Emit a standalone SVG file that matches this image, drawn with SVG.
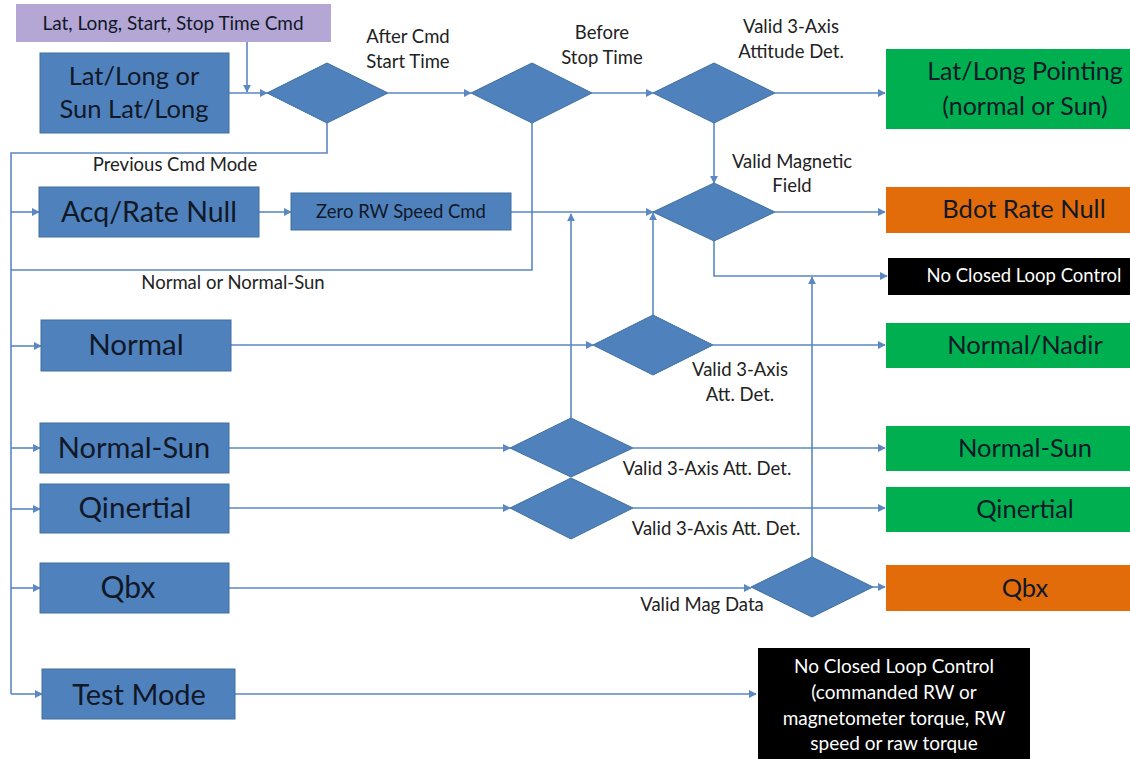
<svg xmlns="http://www.w3.org/2000/svg" width="1130" height="759" viewBox="0 0 1130 759">
<style>
.bg{fill:#ffffff}
.blue{fill:#4f81bd;stroke:#41719c;stroke-width:1}
.dia{fill:#4f81bd;stroke:#41719c;stroke-width:1}
.green{fill:#00b050}
.orange{fill:#e36c0a}
.black{fill:#000000}
.purple{fill:#b4a7d6}
.t{font-family:Lato,"Open Sans","Liberation Sans",sans-serif;text-anchor:middle;fill:#111827}
.w{fill:#ffffff}
.lbl{font-family:Lato,"Open Sans","Liberation Sans",sans-serif;text-anchor:middle;fill:#222;font-size:18.5px}
.c{fill:none;stroke:#5b87c2;stroke-width:1.6}
</style>
<defs>
<marker id="ah" viewBox="0 0 10 10" refX="9" refY="5" markerWidth="8" markerHeight="8" markerUnits="userSpaceOnUse" orient="auto">
<path d="M0,0 L10,5 L0,10 z" fill="#5b87c2"/>
</marker>
</defs>
<rect class="bg" x="0" y="0" width="1130" height="759"/>

<g id="connectors">
<path class="c" d="M247,42 V92" marker-end="url(#ah)"/>
<path class="c" d="M229,93 H267" marker-end="url(#ah)"/>
<path class="c" d="M388,93 H471" marker-end="url(#ah)"/>
<path class="c" d="M592,93 H653" marker-end="url(#ah)"/>
<path class="c" d="M775,93 H885" marker-end="url(#ah)"/>
<path class="c" d="M714,123 V183" marker-end="url(#ah)"/>
<path class="c" d="M327,123 V153 H11 V694"/>
<path class="c" d="M532,123 V270 H11"/>
<path class="c" d="M11,212 H39" marker-end="url(#ah)"/>
<path class="c" d="M11,346 H41" marker-end="url(#ah)"/>
<path class="c" d="M11,448 H40" marker-end="url(#ah)"/>
<path class="c" d="M11,509 H40" marker-end="url(#ah)"/>
<path class="c" d="M11,588 H40" marker-end="url(#ah)"/>
<path class="c" d="M11,694 H42" marker-end="url(#ah)"/>
<path class="c" d="M259,212 H291" marker-end="url(#ah)"/>
<path class="c" d="M511,212 H653" marker-end="url(#ah)"/>
<path class="c" d="M775,212 H885" marker-end="url(#ah)"/>
<path class="c" d="M714,241 V276 H887" marker-end="url(#ah)"/>
<path class="c" d="M231,345 H593" marker-end="url(#ah)"/>
<path class="c" d="M713,345 H885" marker-end="url(#ah)"/>
<path class="c" d="M653,315 V213" marker-end="url(#ah)"/>
<path class="c" d="M571,418 V214" marker-end="url(#ah)"/>
<path class="c" d="M229,448 H510" marker-end="url(#ah)"/>
<path class="c" d="M633,448 H885" marker-end="url(#ah)"/>
<path class="c" d="M229,508 H510" marker-end="url(#ah)"/>
<path class="c" d="M633,508 H885" marker-end="url(#ah)"/>
<path class="c" d="M229,588 H751" marker-end="url(#ah)"/>
<path class="c" d="M873,587 H885" marker-end="url(#ah)"/>
<path class="c" d="M812,557 V277" marker-end="url(#ah)"/>
<path class="c" d="M235,694 H756" marker-end="url(#ah)"/>
</g>

<g id="cmd">
<rect class="purple" x="16" y="4" width="315" height="38"/>
<text class="t" x="173" y="30" font-size="19">Lat, Long, Start, Stop Time Cmd</text>
</g>
<g id="latlong">
<rect class="blue" x="40" y="53" width="189" height="80"/>
<text class="t" x="134" y="85" font-size="25.5">Lat/Long or</text>
<text class="t" x="134" y="118" font-size="25.5">Sun Lat/Long</text>
</g>
<g id="acq">
<rect class="blue" x="39" y="187" width="220" height="50"/>
<text class="t" x="149" y="222" font-size="28.5">Acq/Rate Null</text>
</g>
<g id="zerorw">
<rect class="blue" x="291" y="193" width="220" height="37"/>
<text class="t" x="401" y="218" font-size="18.5">Zero RW Speed Cmd</text>
</g>
<g id="normal">
<rect class="blue" x="41" y="320" width="190" height="51"/>
<text class="t" x="136" y="355" font-size="29.5">Normal</text>
</g>
<g id="normalsun">
<rect class="blue" x="40" y="423" width="189" height="50"/>
<text class="t" x="134" y="458" font-size="29">Normal-Sun</text>
</g>
<g id="qinertial">
<rect class="blue" x="40" y="484" width="189" height="49"/>
<text class="t" x="135" y="518" font-size="29.5">Qinertial</text>
</g>
<g id="qbx">
<rect class="blue" x="40" y="563" width="189" height="50"/>
<text class="t" x="128" y="598" font-size="30">Qbx</text>
</g>
<g id="testmode">
<rect class="blue" x="42" y="669" width="193" height="50"/>
<text class="t" x="139" y="705" font-size="29">Test Mode</text>
</g>

<g id="d-aftercmd">
<polygon class="dia" points="267,93 327,63 388,93 327,123"/>
<text class="lbl" x="408" y="43">After Cmd</text>
<text class="lbl" x="408" y="68">Start Time</text>
<text class="lbl" x="175" y="171">Previous Cmd Mode</text>
</g>
<g id="d-beforestop">
<polygon class="dia" points="471,93 532,63 592,93 532,123"/>
<text class="lbl" x="602" y="39">Before</text>
<text class="lbl" x="602" y="64">Stop Time</text>
<text class="lbl" x="233" y="289">Normal or Normal-Sun</text>
</g>
<g id="d-valid3axis">
<polygon class="dia" points="653,93 714,63 775,93 714,123"/>
<text class="lbl" x="791" y="33">Valid 3-Axis</text>
<text class="lbl" x="791" y="58">Attitude  Det.</text>
</g>
<g id="d-validmag">
<polygon class="dia" points="653,212 714,183 775,212 714,241"/>
<text class="lbl" x="792" y="168">Valid Magnetic</text>
<text class="lbl" x="792" y="192">Field</text>
</g>
<g id="d-normal">
<polygon class="dia" points="593,345 653,315 713,345 653,375"/>
<text class="lbl" x="740" y="376">Valid 3-Axis</text>
<text class="lbl" x="740" y="401">Att. Det.</text>
</g>
<g id="d-normalsun">
<polygon class="dia" points="510,448 571,418 633,448 571,477"/>
<text class="lbl" x="707" y="475">Valid 3-Axis Att. Det.</text>
</g>
<g id="d-qinertial">
<polygon class="dia" points="510,508 571,478 633,508 571,539"/>
<text class="lbl" x="716" y="535">Valid 3-Axis Att. Det.</text>
</g>
<g id="d-qbx">
<polygon class="dia" points="751,587 812,557 873,587 812,617"/>
<text class="lbl" x="702" y="611">Valid Mag Data</text>
</g>

<g id="out-latlong">
<rect class="green" x="886" y="49" width="244" height="80"/>
<text class="t" x="1025" y="80" font-size="25">Lat/Long Pointing</text>
<text class="t" x="1025" y="115" font-size="25">(normal or Sun)</text>
</g>
<g id="out-bdot">
<rect class="orange" x="886" y="187" width="244" height="46"/>
<text class="t" x="1024" y="218" font-size="25.5">Bdot Rate Null</text>
</g>
<g id="out-noclosed">
<rect class="black" x="888" y="258" width="242" height="37"/>
<text class="t w" x="1024" y="282" font-size="18.5">No Closed Loop Control</text>
</g>
<g id="out-normalnadir">
<rect class="green" x="886" y="323" width="244" height="45"/>
<text class="t" x="1025" y="354" font-size="25.5">Normal/Nadir</text>
</g>
<g id="out-normalsun">
<rect class="green" x="886" y="426" width="244" height="45"/>
<text class="t" x="1025" y="457" font-size="25.5">Normal-Sun</text>
</g>
<g id="out-qinertial">
<rect class="green" x="886" y="487" width="244" height="45"/>
<text class="t" x="1025" y="518" font-size="25.5">Qinertial</text>
</g>
<g id="out-qbx">
<rect class="orange" x="886" y="565" width="244" height="46"/>
<text class="t" x="1025" y="597" font-size="25.5">Qbx</text>
</g>
<g id="out-test">
<rect class="black" x="758" y="648" width="272" height="111"/>
<text class="t w" x="894" y="673" font-size="19">No Closed Loop Control</text>
<text class="t w" x="894" y="699" font-size="19">(commanded RW or</text>
<text class="t w" x="894" y="725" font-size="19">magnetometer torque, RW</text>
<text class="t w" x="894" y="750" font-size="19">speed or raw torque</text>
</g>
</svg>
